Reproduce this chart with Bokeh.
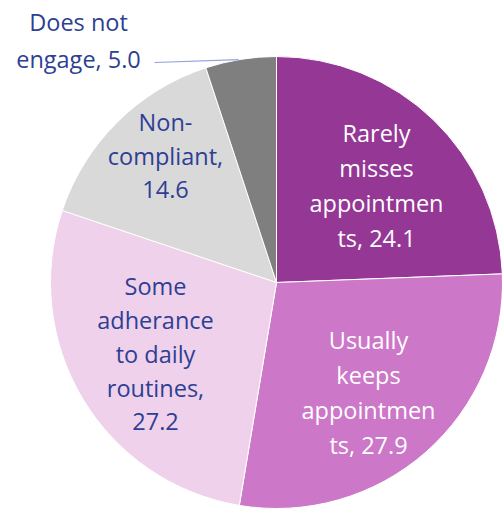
import math
from bokeh.plotting import figure
from bokeh.models import Range1d
from bokeh.core.properties import value
from bokeh.embed import file_html
from bokeh.resources import INLINE

# ---- data ----
categories = ["Rarely misses appointments", "Usually keeps appointments",
              "Some adherance to daily routines", "Non-compliant", "Does not engage"]
values = [24.1, 27.9, 27.2, 14.6, 5.0]
label_lines = [
    ["Rarely", "misses", "appointmen", "ts, 24.1"],
    ["Usually", "keeps", "appointmen", "ts, 27.9"],
    ["Some", "adherance", "to daily", "routines,", "27.2"],
    ["Non-", "compliant,", "14.6"],
    ["Does not", "engage, 5.0"],
]
colors = ["#953795", "#CC77C8", "#EFD1EC", "#D9D9D9", "#7F7F7F"]
text_colors = ["white", "white", "#2E3F93", "#2E3F93", "#2E3F93"]

# ---- layout/style ----
W, H = 502, 510
cx, cy, R = 276, H - 282, 226
# label centre (x, y of first line centre in page pixels), line spacing
label_pos = [(376, 132), (368, 339), (155, 285), (165, 121), (78, 21)]
line_gap = [35, 35, 34, 34, 37]
font = "Open Sans"
fsize = "23.5px"

p = figure(width=W, height=H, output_backend="svg", toolbar_location=None,
           x_range=Range1d(0, W), y_range=Range1d(0, H), min_border=0)
p.axis.visible = False
p.grid.visible = False
p.outline_line_color = None

total = sum(values)
cum = 0.0
starts, ends = [], []
for v in values:
    a_start = math.pi / 2 - (cum + v) / total * 2 * math.pi
    a_end = math.pi / 2 - cum / total * 2 * math.pi
    starts.append(a_start)
    ends.append(a_end)
    cum += v

p.wedge(x=[cx] * len(values), y=[cy] * len(values), radius=R,
        start_angle=starts, end_angle=ends, fill_color=colors,
        line_color="white", line_width=1)

# leader line for the small slice
mid = (starts[4] + ends[4]) / 2
ex = cx + R * math.cos(mid + 0.01)
ey = cy + R * math.sin(mid + 0.01)
p.line(x=[154, ex], y=[H - 62, ey], line_color="#8FA2DA", line_width=1.2)

for lines, (lx, ly), gap, tc in zip(label_lines, label_pos, line_gap, text_colors):
    xs = [lx] * len(lines)
    ys = [H - (ly + i * gap) for i in range(len(lines))]
    p.text(x=xs, y=ys, text=lines, text_align="center", text_baseline="middle",
           text_color=tc, text_font=value(font), text_font_size=fsize)

open("out.html", "w").write(file_html(p, INLINE))
